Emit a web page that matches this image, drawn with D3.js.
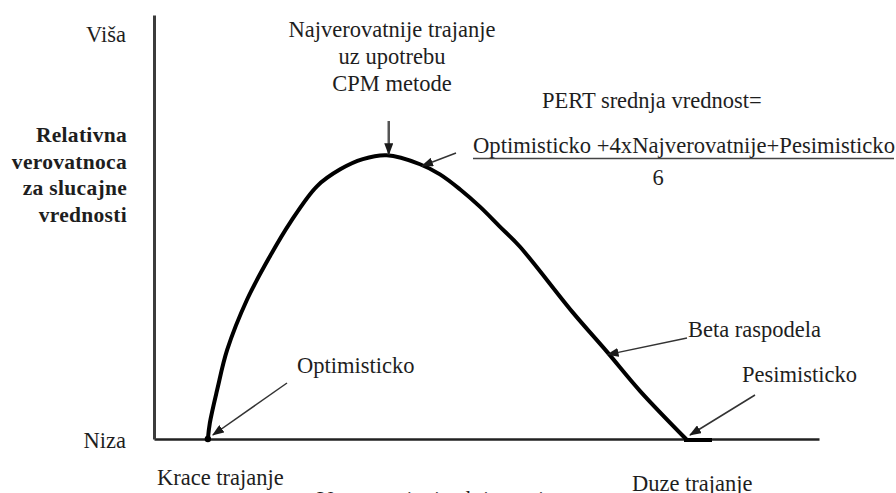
<!DOCTYPE html>
<html>
<head>
<meta charset="utf-8">
<script src="https://cdn.jsdelivr.net/npm/d3@7"></script>
<style>
  html, body { margin: 0; padding: 0; background: #fff; }
  svg { display: block; }
  svg text { font-family: "Liberation Serif", "DejaVu Serif", "Times New Roman", Times, serif; fill: #1e1e1e; }
</style>
</head>
<body>
<svg id="chart" width="896" height="493"></svg>
<script>
// Beta distribution of activity duration (PERT)
const durations   = [8.1, 8.4, 9.5, 11.0, 14.0, 17.4, 20.5, 24.5, 28.0, 31.4, 35.0, 40.0, 43.0, 46.0, 49.0, 52.0, 55.0, 63.0, 68.1, 73.1, 80.0];
const probability = [0, 3.8, 11.6, 21.0, 32.9, 43.0, 51.1, 59.6, 63.6, 66.0, 66.9, 64.8, 62.4, 58.9, 54.8, 50.1, 45.4, 29.8, 20.6, 11.3, 0];

const optimistic  = 8.1;
const mostLikely  = 35.0;
const pessimistic = 80.0;
const meanPoint   = [40.3, 64.4];
const betaPoint   = [68.2, 19.9];

const levelLabels  = ["Viša", "Niza"];
const yTitleLines  = ["Relativna", "verovatnoca", "za slucajne", "vrednosti"];
const endLabels    = ["Krace trajanje", "Duze trajanje"];
const xTitle       = "Vreme trajanja aktivnosti";
const modeLines    = ["Najverovatnije trajanje", "uz upotrebu", "CPM metode"];
const pertTitle    = "PERT srednja vrednost=";
const pertFormula  = ["Optimisticko +4xNajverovatnije+Pesimisticko", "6"];
const pointLabels  = ["Optimisticko", "Pesimisticko", "Beta raspodela"];

const serif = "'Liberation Serif', 'DejaVu Serif', 'Times New Roman', serif";
const svg = d3.select("#chart");
const x = d3.scaleLinear().domain([0, 100]).range([154, 819]);
const y = d3.scaleLinear().domain([0, 100]).range([439, 15]);

// arrowhead
svg.append("defs").append("marker")
  .attr("id", "head")
  .attr("markerUnits", "userSpaceOnUse")
  .attr("viewBox", "0 0 12 9")
  .attr("markerWidth", 12).attr("markerHeight", 9)
  .attr("refX", 11).attr("refY", 4.5)
  .attr("orient", "auto")
  .append("path").attr("d", "M0,0 L12,4.5 L0,9 Z").attr("fill", "#1a1a1a");

// axes without ticks
svg.append("g")
  .attr("transform", `translate(0,${y(0)})`)
  .call(d3.axisBottom(x).tickValues([]).tickSizeOuter(0))
  .call(g => g.select(".domain").attr("stroke", "#222").attr("stroke-width", 2.5));

svg.append("g")
  .attr("transform", `translate(${x(0)},0)`)
  .call(d3.axisLeft(y).tickValues([]).tickSizeOuter(0))
  .call(g => g.select(".domain").attr("stroke", "#3c3c3c").attr("stroke-width", 3));

// curve
const pts = durations.map((d, i) => [d, probability[i]]);
const line = d3.line()
  .x(d => x(d[0])).y(d => y(d[1]))
  .curve(d3.curveCatmullRom.alpha(0.5));
svg.append("path")
  .datum(pts)
  .attr("d", line)
  .attr("fill", "none")
  .attr("stroke", "#000")
  .attr("stroke-width", 4)
  .attr("stroke-linecap", "round");

// end marks on the axis
svg.append("circle").attr("cx", x(optimistic)).attr("cy", y(0)).attr("r", 3.2).attr("fill", "#000");
svg.append("line")
  .attr("x1", x(pessimistic) - 2).attr("x2", x(pessimistic) + 26)
  .attr("y1", y(0) + 1).attr("y2", y(0) + 1)
  .attr("stroke", "#000").attr("stroke-width", 4);

const fs = 22.5;
const txt = (sel) => sel.append("text").attr("font-family", serif).attr("font-size", fs);

// y-axis texts
txt(svg).attr("x", 126).attr("y", y(100) + 27).attr("text-anchor", "end").text(levelLabels[0]);
txt(svg).attr("x", 126).attr("y", y(0) + 9).attr("text-anchor", "end").text(levelLabels[1]);
svg.append("g").selectAll("text").data(yTitleLines).join("text")
  .attr("font-family", serif)
  .attr("x", 127).attr("y", (d, i) => 142 + i * 26.7)
  .attr("text-anchor", "end").attr("font-size", 21.5).attr("font-weight", "bold")
  .attr("letter-spacing", 0.3)
  .text(d => d);

// x-axis texts
txt(svg).attr("x", x(0) + 3).attr("y", y(0) + 46).text(endLabels[0]);
txt(svg).attr("x", 632).attr("y", y(0) + 52).text(endLabels[1]);
txt(svg).attr("x", 317).attr("y", y(0) + 68).text(xTitle);

// most likely duration
const modeX = x(mostLikely) + 2;
svg.append("g").selectAll("text").data(modeLines).join("text")
  .attr("font-family", serif)
  .attr("x", 392).attr("y", (d, i) => 37 + i * 27)
  .attr("text-anchor", "middle").attr("font-size", fs).text(d => d);
svg.append("line")
  .attr("x1", modeX).attr("x2", modeX)
  .attr("y1", 121).attr("y2", y(probability[durations.indexOf(mostLikely)]) - 1)
  .attr("stroke", "#555").attr("stroke-width", 2.5)
  .attr("marker-end", "url(#head)");

// PERT mean
txt(svg).attr("x", 542).attr("y", 108).text(pertTitle);
txt(svg).attr("x", 473).attr("y", 153)
  .attr("textLength", 422).attr("lengthAdjust", "spacingAndGlyphs").text(pertFormula[0]);
svg.append("line").attr("x1", 473).attr("x2", 894).attr("y1", 158.5).attr("y2", 158.5)
  .attr("stroke", "#444").attr("stroke-width", 1.6);
txt(svg).attr("x", 658).attr("y", 185).attr("text-anchor", "middle").text(pertFormula[1]);
svg.append("line")
  .attr("x1", 456).attr("y1", 153)
  .attr("x2", x(meanPoint[0])).attr("y2", y(meanPoint[1]))
  .attr("stroke", "#333").attr("stroke-width", 1.5)
  .attr("marker-end", "url(#head)");

// point labels with arrows
txt(svg).attr("x", 297).attr("y", 373).text(pointLabels[0]);
svg.append("line")
  .attr("x1", 287).attr("y1", 383)
  .attr("x2", x(optimistic) + 5).attr("y2", y(0) - 4)
  .attr("stroke", "#333").attr("stroke-width", 1.5)
  .attr("marker-end", "url(#head)");

txt(svg).attr("x", 742).attr("y", 382).text(pointLabels[1]);
svg.append("line")
  .attr("x1", 755).attr("y1", 395)
  .attr("x2", x(pessimistic) + 4).attr("y2", y(0) - 4)
  .attr("stroke", "#333").attr("stroke-width", 1.5)
  .attr("marker-end", "url(#head)");

txt(svg).attr("x", 688).attr("y", 337).text(pointLabels[2]);
svg.append("line")
  .attr("x1", 687).attr("y1", 338)
  .attr("x2", x(betaPoint[0])).attr("y2", y(betaPoint[1]))
  .attr("stroke", "#333").attr("stroke-width", 1.5)
  .attr("marker-end", "url(#head)");
</script>
</body>
</html>
